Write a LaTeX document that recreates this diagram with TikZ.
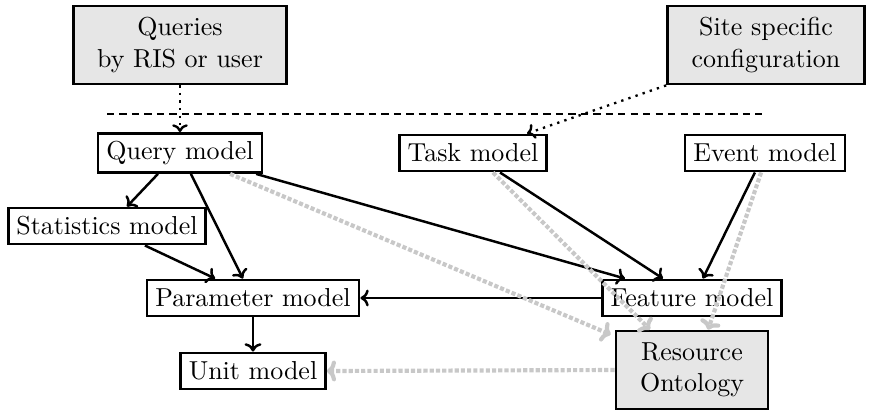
\documentclass[tikz,border=0pt]{standalone}
\usetikzlibrary{arrows.meta,calc}
\definecolor{srcfill}{RGB}{230,230,230}
\definecolor{hintgray}{RGB}{200,200,200}
\begin{document}
\begin{tikzpicture}[x=0.385pt,y=-0.385pt,
  box/.style={draw, line width=1.1pt, fill=white, inner sep=0pt,
    minimum height=13.9pt, align=center},
  srcbox/.style={box, fill=srcfill, minimum height=30pt},
  link/.style={-{To[length=3.2pt,width=6.5pt]}, line width=0.95pt},
  feed/.style={-{To[length=3pt,width=6pt]}, line width=0.9pt, dotted},
  hint/.style={-{To[length=3.5pt,width=8pt]}, line width=1.6pt, draw=hintgray,
    dash pattern=on 1.6pt off 0.8pt}
]
\useasboundingbox (0,0) rectangle (869,410);

% external inputs
\node[srcbox, minimum width=82pt] (qry) at (180,45) {Queries\\by RIS or user};
\node[srcbox, minimum width=75.8pt] (site) at (766,45) {Site specific\\configuration};

% separator between inputs and models
\coordinate (sepL) at (107,114);
\coordinate (sepR) at (762,114);
\draw[line width=0.6pt, dash pattern=on 2.8pt off 2pt] (sepL) -- (sepR);

% models
\node[box, minimum width=63.1pt, minimum height=15pt] (qm) at (180,153) {Query model};
\node[box, minimum width=56.6pt] (tm) at (473,153) {Task model};
\node[box, minimum width=61.6pt] (em) at (765,153) {Event model};
\node[box, minimum width=75.8pt] (sm) at (107,226) {Statistics model};
\node[box, minimum width=81.6pt] (pm) at (253,298) {Parameter model};
\node[box, minimum width=68.9pt] (fm) at (692,298) {Feature model};
\node[box, minimum width=55.8pt] (um) at (253,371) {Unit model};
\node[srcbox, minimum width=58.5pt] (ro) at (692,370) {Resource\\Ontology};

% inputs feeding the models
\draw[feed] (qry) -- (qm);
\draw[feed] (site.south west) -- ([xshift=20.8pt]tm.north);

% model dependencies
\draw[link] ([xshift=-8.5pt]qm.south) -- ([xshift=7.7pt]sm.north);
\draw[link] ([xshift=4.2pt]qm.south) -- ([xshift=-3.9pt]pm.north);
\draw[link] ([xshift=29.3pt]qm.south) -- ([xshift=-25.8pt]fm.north);
\draw[link] ([xshift=14.6pt]sm.south) -- ([xshift=-14.6pt]pm.north);
\draw[link] ([xshift=10.4pt]tm.south) -- ([xshift=-11.2pt]fm.north);
\draw[link] ([xshift=-3.9pt]em.south) -- ([xshift=4.2pt]fm.north);
\draw[link] (fm.west) -- (pm.east);
\draw[link] (pm.south) -- (um.north);

% references to the resource ontology
\draw[hint] ([xshift=19.3pt]qm.south) -- ([xshift=-1.5pt,yshift=-1.9pt]ro.north west);
\draw[hint] ([xshift=7.7pt]tm.south) -- ([xshift=-16.2pt]ro.north);
\draw[hint] ([xshift=-1.5pt]em.south) -- ([xshift=6.2pt]ro.north);
\draw[hint] (ro.west) -- (um.east);
\end{tikzpicture}
\end{document}
